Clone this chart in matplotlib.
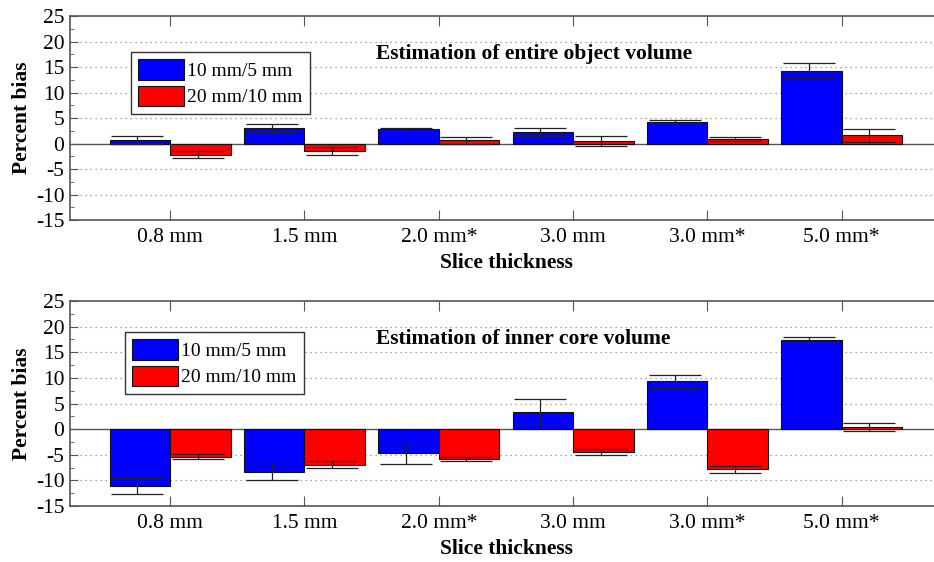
import matplotlib
matplotlib.use("Agg")
import matplotlib.pyplot as plt
import numpy as np
from matplotlib.ticker import MultipleLocator

# ---------------------------------------------------------------------------
# Data
# ---------------------------------------------------------------------------
slices = ["0.8 mm", "1.5 mm", "2.0 mm*", "3.0 mm", "3.0 mm*", "5.0 mm*"]
series = ["10 mm/5 mm", "20 mm/10 mm"]

entire_blue = [0.7, 3.1, 2.75, 2.3, 4.3, 14.3]
entire_blue_err = [0.7, 0.8, 0.2, 0.8, 0.3, 1.4]
entire_red = [-2.2, -1.45, 0.65, 0.5, 0.8, 1.6]
entire_red_err = [0.65, 0.75, 0.7, 0.9, 0.4, 1.3]

core_blue = [-11.1, -8.3, -4.7, 3.3, 9.3, 17.45]
core_blue_err = [1.6, 1.65, 2.05, 2.5, 1.35, 0.55]
core_red = [-5.35, -6.9, -5.85, -4.5, -7.8, 0.4]
core_red_err = [0.55, 0.6, 0.45, 0.55, 0.7, 0.8]

panels = [
    ("Estimation of entire object volume", entire_blue, entire_blue_err, entire_red, entire_red_err),
    ("Estimation of inner core volume", core_blue, core_blue_err, core_red, core_red_err),
]

plt.rcParams["font.family"] = ["Liberation Serif", "DejaVu Serif"]
plt.rcParams["axes.unicode_minus"] = False
FS = 15.5
SPINE = "#555555"

fig = plt.figure(figsize=(9.34, 5.62), dpi=100)
positions = [[0.0749, 0.6085, 0.9336, 0.363], [0.0749, 0.0996, 0.9336, 0.3648]]
legend_anchors = [(0.07, 0.824), (0.063, 0.849)]

x = np.arange(1, len(slices) + 1)
w = 0.45

for pos, anchor, (title, b, be, r, re_) in zip(positions, legend_anchors, panels):
    ax = fig.add_axes(pos)
    ax.set_xlim(0.254, 6.746)
    ax.set_ylim(-15, 25)

    for yv in [-10, -5, 5, 10, 15, 20]:
        ax.axhline(yv, color="#888888", linestyle=(0, (1, 3)), linewidth=0.9, zorder=0)
    ax.axhline(0, color=SPINE, linewidth=1.0, zorder=1)

    ax.bar(x - w / 2, b, w, color="#0000ff", edgecolor="#111111", linewidth=0.8,
           label=series[0], zorder=2)
    ax.bar(x + w / 2, r, w, color="#ff0000", edgecolor="#111111", linewidth=0.8,
           label=series[1], zorder=2)
    ax.errorbar(x - w / 2 - 0.02, b, yerr=be, fmt="none", ecolor="#222222",
                elinewidth=0.9, capsize=19, capthick=0.9, zorder=3)
    ax.errorbar(x + w / 2 - 0.02, r, yerr=re_, fmt="none", ecolor="#222222",
                elinewidth=0.9, capsize=19, capthick=0.9, zorder=3)

    ax.set_xticks(x)
    ax.set_xticklabels(slices, fontsize=FS)
    ax.yaxis.set_major_locator(MultipleLocator(5))
    ax.yaxis.set_minor_locator(MultipleLocator(2.5))
    ax.tick_params(axis="y", labelsize=FS, direction="in", length=6, color=SPINE, pad=4)
    ax.tick_params(axis="y", which="minor", direction="in", length=3, color=SPINE)
    ax.tick_params(axis="x", direction="in", length=7, color=SPINE, top=True, pad=6)
    for s in ax.spines.values():
        s.set_color(SPINE)
        s.set_linewidth(1.2)

    ax.set_ylabel("Percent bias", fontsize=FS, fontweight="bold")
    ax.set_xlabel("Slice thickness", fontsize=FS, fontweight="bold", labelpad=4)
    ax.yaxis.set_label_coords(-0.044, 0.5)
    ax.text(2.53, 17.6, title, fontsize=FS, fontweight="bold", va="center", ha="left")

    leg = ax.legend(loc="upper left", bbox_to_anchor=anchor, fontsize=14,
                    handlelength=2.35, handleheight=1.25, handletextpad=0.15,
                    borderpad=0.38, labelspacing=0.28, borderaxespad=0, fancybox=False,
                    framealpha=1, edgecolor="#333333")
    leg.get_frame().set_linewidth(1.0)

fig.savefig("out.png", dpi=100)
